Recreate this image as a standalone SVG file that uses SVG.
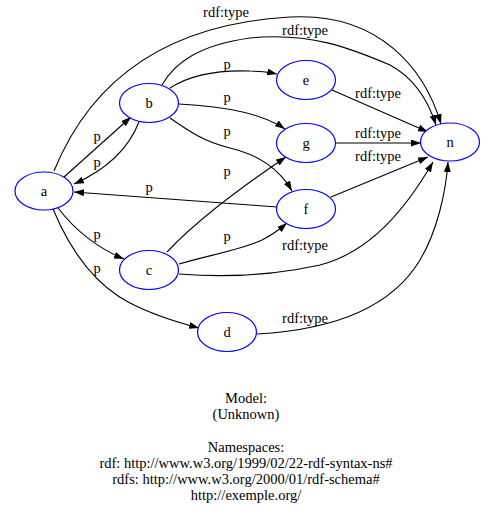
<svg xmlns="http://www.w3.org/2000/svg" width="483" height="506" viewBox="0 0 483 506">
<style>
text{font-family:"Liberation Serif","Times New Roman",serif;font-size:14.5px;fill:#000;text-anchor:middle}
.n ellipse{fill:#fff;stroke:#0000ff;stroke-width:1.2}
.e path{fill:none;stroke:#000;stroke-width:1.1;marker-end:url(#ah)}
</style>
<defs>
<marker id="ah" viewBox="0 0 10 7" refX="10" refY="3.5" markerWidth="10" markerHeight="7" markerUnits="userSpaceOnUse" orient="auto">
<path d="M0,0 L10,3.5 L0,7 z" fill="#000"/>
</marker>
</defs>
<rect width="483" height="506" fill="#fff"/>
<g id="edges" class="e">
<path d="M54,171 C85,95 150,25 290,17 C380,12 425,70 441,124"/>
<path d="M162,85 C175,62 200,45 250,38 C310,32 350,48 390,65 C414,78 428,100 436,125"/>
<path d="M170,88 C190,75 220,70 250,71 C260,71 268,72 277,74"/>
<path d="M179,104 C220,106 260,112 285,129"/>
<path d="M170,118 C190,132 205,142 230,148 C260,155 280,170 292,191"/>
<path d="M64,177 L131,117"/>
<path d="M139,122 C130,145 110,168 74,184"/>
<path d="M277,207 L74,192"/>
<path d="M167,252 C195,222 240,188 286,157"/>
<path d="M179,264 C210,255 240,250 262,240 C272,235 280,229 287,223"/>
<path d="M179,274 C230,278 280,274 320,265 C370,252 405,210 433,162"/>
<path d="M58,208 C75,230 95,247 124,259"/>
<path d="M53,209 C70,250 95,285 130,303 C155,316 180,323 199,328"/>
<path d="M257,334 C330,330 390,310 420,260 C438,230 446,190 448,162"/>
<path d="M332,90 L428,132"/>
<path d="M335,143 L421,143"/>
<path d="M331,197 L428,157"/>
<text x="226" y="17">rdf:type</text>
<text x="305" y="35">rdf:type</text>
<text x="378" y="98">rdf:type</text>
<text x="378" y="138">rdf:type</text>
<text x="378" y="161">rdf:type</text>
<text x="305" y="250">rdf:type</text>
<text x="305" y="323">rdf:type</text>
<text x="227" y="69">p</text>
<text x="227" y="102">p</text>
<text x="227" y="136">p</text>
<text x="227" y="176">p</text>
<text x="227" y="241">p</text>
<text x="97" y="141">p</text>
<text x="97" y="167">p</text>
<text x="149" y="192">p</text>
<text x="97" y="239">p</text>
<text x="97" y="273">p</text>
</g>
<g id="a" class="n"><ellipse cx="44" cy="191" rx="29" ry="19"/><text x="44" y="196">a</text></g>
<g id="b" class="n"><ellipse cx="149" cy="103" rx="29.5" ry="19.5"/><text x="149" y="108">b</text></g>
<g id="e" class="n"><ellipse cx="306" cy="80" rx="29.5" ry="19.5"/><text x="306" y="85">e</text></g>
<g id="g" class="n"><ellipse cx="306" cy="143" rx="29.5" ry="19.5"/><text x="306" y="148">g</text></g>
<g id="n" class="n"><ellipse cx="450" cy="142" rx="29.5" ry="19"/><text x="450" y="147">n</text></g>
<g id="f" class="n"><ellipse cx="306" cy="209" rx="29.5" ry="19.5"/><text x="306" y="214">f</text></g>
<g id="c" class="n"><ellipse cx="149" cy="270" rx="29.5" ry="19.5"/><text x="149" y="275">c</text></g>
<g id="d" class="n"><ellipse cx="227" cy="332" rx="29.5" ry="19.5"/><text x="227" y="337">d</text></g>
<g id="legend">
<text x="246" y="403">Model:</text>
<text x="246" y="419">(Unknown)</text>
<text x="246" y="452">Namespaces:</text>
<text x="246" y="468">rdf: http://www.w3.org/1999/02/22-rdf-syntax-ns#</text>
<text x="246" y="484">rdfs: http://www.w3.org/2000/01/rdf-schema#</text>
<text x="246" y="500">http://exemple.org/</text>
</g>
</svg>
